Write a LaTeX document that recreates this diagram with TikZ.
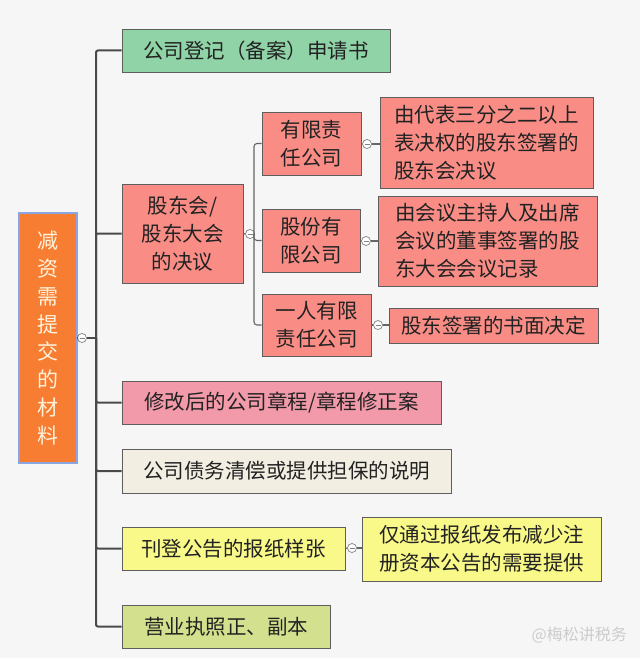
\documentclass[tikz,border=0pt]{standalone}
\usepackage{fontspec}
\setmainfont{Noto Sans CJK SC}
\definecolor{bgc}{HTML}{F6F6F6}
\definecolor{bord}{HTML}{5E5E5E}
\definecolor{linec}{HTML}{4A4A4A}
\definecolor{greenc}{HTML}{8FD3A7}
\definecolor{salmon}{HTML}{F98D86}
\definecolor{pinkc}{HTML}{F29AAA}
\definecolor{creamc}{HTML}{F2EEE2}
\definecolor{yellowc}{HTML}{F9F98A}
\definecolor{olivec}{HTML}{D3E18E}
\definecolor{orangec}{HTML}{F77D33}
\definecolor{blueb}{HTML}{8AA6E0}
\definecolor{maintxt}{HTML}{FFF3DC}
\definecolor{txt}{HTML}{222222}
\tikzset{
  box/.style={draw=bord, line width=0.9pt, inner sep=0pt, align=center, text=txt,
    font=\fontsize{20.5}{28}\selectfont},
  trunk/.style={draw=linec, line width=2pt, rounded corners=2pt},
  thin/.style={draw=linec!85, line width=1.1pt, rounded corners=3pt},
  collapse/.style={circle, draw=gray, fill=white, line width=0.7pt, inner sep=0pt, minimum size=9pt,
    path picture={\draw[gray, line width=0.7pt] ([xshift=2pt]path picture bounding box.west) -- ([xshift=-2pt]path picture bounding box.east);}},
}
\begin{document}
\begin{tikzpicture}[x=1pt, y=-1pt]
\fill[bgc] (0,0) rectangle (640,658);
\useasboundingbox (0,0) rectangle (640,658);

% main node
\node[box, fill=orangec, draw=blueb, line width=1.2pt, text=maintxt, minimum width=58pt, minimum height=250pt,
  font=\fontsize{21}{27.9}\selectfont]
  (main) at (48,338) {减\\资\\需\\提\\交\\的\\材\\料};

% first level
\node[box, fill=greenc, minimum width=268pt, minimum height=43pt] (n1) at (256,50.5) {公司登记（备案）申请书};
\node[box, fill=salmon, minimum width=121pt, minimum height=99pt] (n2) at (182.5,233.5) {股东会/\\股东大会\\的决议};
\node[box, fill=pinkc, minimum width=319pt, minimum height=43pt] (n3) at (281.5,402.5) {修改后的公司章程/章程修正案};
\node[box, fill=creamc, minimum width=329pt, minimum height=44pt] (n4) at (286.5,471) {公司债务清偿或提供担保的说明};
\node[box, fill=yellowc, minimum width=223pt, minimum height=43pt] (n5) at (233.5,548.5) {刊登公告的报纸样张};
\node[box, fill=olivec, minimum width=208pt, minimum height=43pt] (n6) at (226,626.5) {营业执照正、副本};

% second level
\node[box, fill=salmon, minimum width=99pt, minimum height=63pt] (a1) at (311.5,143.5) {有限责\\任公司};
\node[box, fill=salmon, minimum width=98pt, minimum height=63pt] (a2) at (311,240.5) {股份有\\限公司};
\node[box, fill=salmon, minimum width=109pt, minimum height=62pt] (a3) at (316.5,325) {一人有限\\责任公司};

% third level
\node[box, fill=salmon, align=left, minimum width=213pt, minimum height=91pt] (b1) at (486.5,142.5) {由代表三分之二以上\\表决权的股东签署的\\股东会决议};
\node[box, fill=salmon, align=left, minimum width=219pt, minimum height=90pt] (b2) at (487.5,241) {由会议主持人及出席\\会议的董事签署的股\\东大会会议记录};
\node[box, fill=salmon, minimum width=209pt, minimum height=35pt] (b3) at (493.5,325.5) {股东签署的书面决定};
\node[box, fill=yellowc, align=left, minimum width=239pt, minimum height=64pt] (c5) at (481.5,549) {仅通过报纸发布减少注\\册资本公告的需要提供};

% collapse markers
\node[collapse] (k0) at (82,338) {};
\node[collapse] (k2) at (250,234) {};
\node[collapse] (ka1) at (367,144) {};
\node[collapse] (ka2) at (366,241) {};
\node[collapse] (ka3) at (378,325) {};
\node[collapse] (k5) at (352,548) {};

\coordinate (j0) at (96,338);
\coordinate (j2) at (254,234);

% trunk connectors
\draw[trunk] (main.east) -- (k0.west);
\draw[trunk] (k0.east) -- (j0);
\foreach \t in {n1,n2,n3,n4,n5,n6} \draw[trunk] (j0) |- (\t.west);

% sub trunk
\draw[thin] (n2.east) -- (k2.west);
\draw[thin] (k2.east) -- (j2);
\foreach \t in {a1,a2,a3} \draw[thin] (j2) |- (\t.west);

\draw[thin] (a1.east) -- (ka1.west); \draw[thin] (ka1.east) -- (b1.west |- ka1);
\draw[thin] (a2.east) -- (ka2.west); \draw[thin] (ka2.east) -- (b2.west |- ka2);
\draw[thin] (a3.east) -- (ka3.west); \draw[thin] (ka3.east) -- (b3.west |- ka3);
\draw[thin] (n5.east) -- (k5.west); \draw[thin] (k5.east) -- (c5.west |- k5);

% watermark
\node[text=gray!40, font=\fontsize{16}{18}\selectfont, anchor=east, inner sep=0pt] (wm) at (627,635) {@梅松讲税务};
\end{tikzpicture}
\end{document}
